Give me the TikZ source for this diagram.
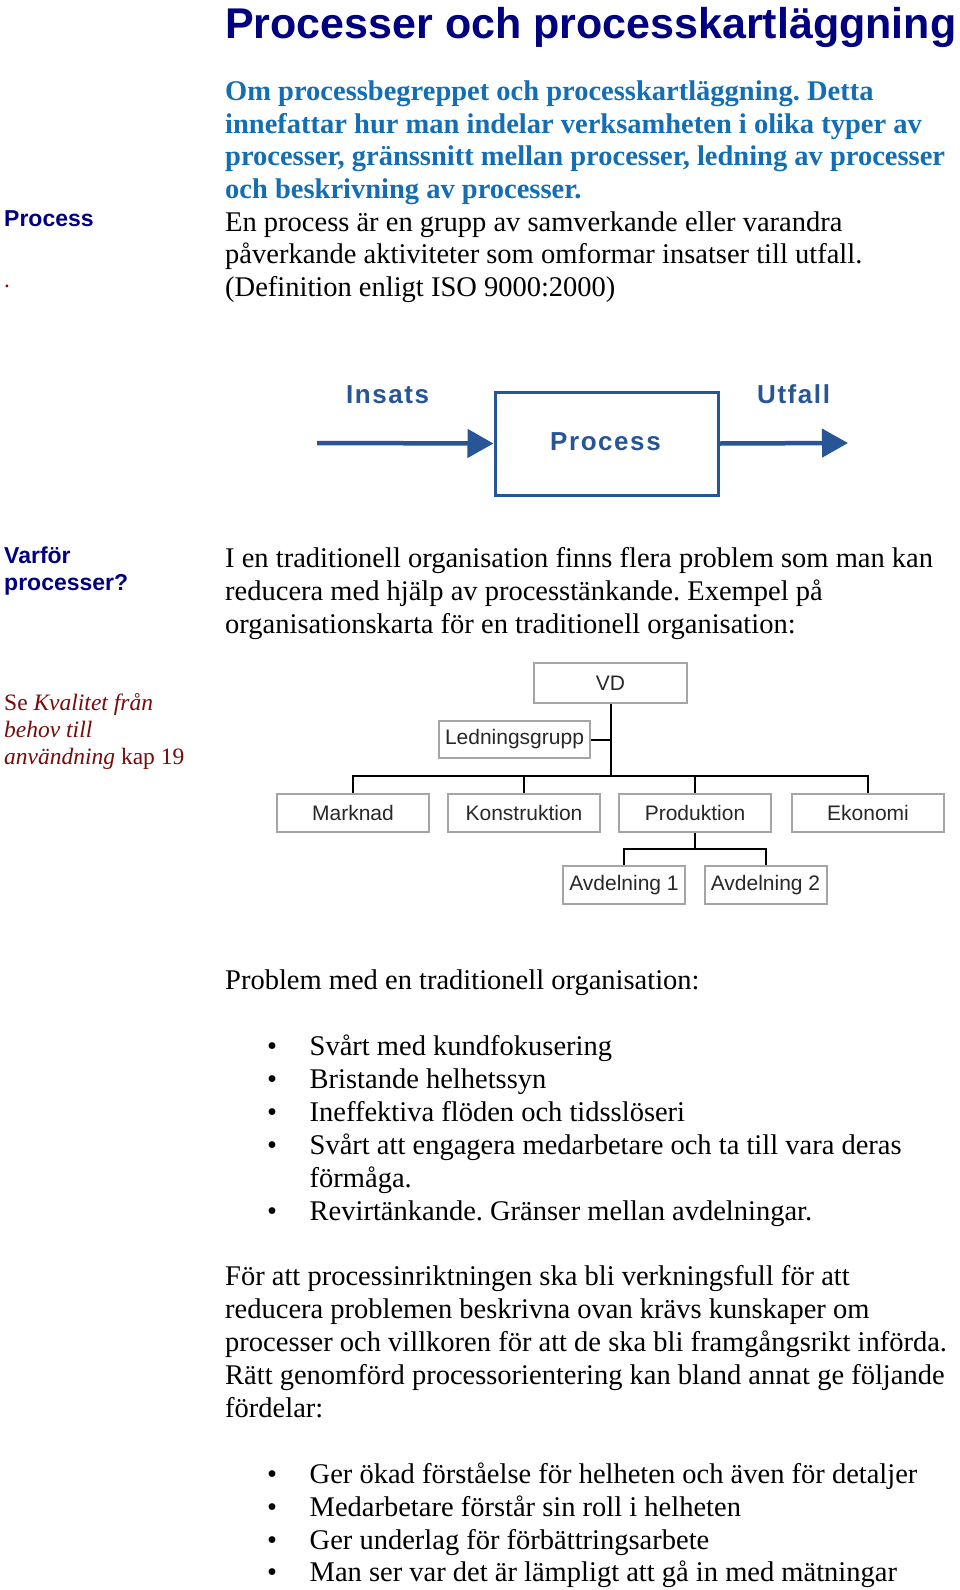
\documentclass[tikz,border=0pt]{standalone}
\usepackage{fontspec}
\setmainfont{Liberation Serif}
\newfontfamily\arialfont{Liberation Sans}
\newfontfamily\procfont[LetterSpace=6]{Liberation Sans}
\usetikzlibrary{arrows.meta}
\definecolor{navy}{RGB}{0,0,128}
\definecolor{leadblue}{RGB}{20,110,180}
\definecolor{procblue}{RGB}{40,85,150}
\definecolor{darkred}{RGB}{120,10,10}
\definecolor{orggray}{RGB}{165,165,165}
\definecolor{orgtext}{RGB}{40,40,40}
\tikzset{
  body/.style={anchor=base west, inner sep=0pt, font=\fontsize{28.5}{33}\selectfont},
  lead/.style={body, text=leadblue, font=\fontsize{28.5}{33}\selectfont\bfseries},
  side/.style={anchor=base west, inner sep=0pt, text=navy, font=\arialfont\fontsize{23}{27}\selectfont\bfseries},
  ref/.style={anchor=base west, inner sep=0pt, text=darkred, font=\fontsize{23.5}{27}\selectfont},
  proclabel/.style={anchor=base west, inner sep=0pt, text=procblue, font=\procfont\fontsize{26}{30}\selectfont\bfseries},
  procarrow/.style={draw=procblue, line width=4.5pt, -{Triangle[length=26pt,width=28pt]}},
  orgbox/.style={draw=orggray, line width=2pt, text=orgtext, inner sep=0pt, font=\arialfont\fontsize{21}{24}\selectfont},
  orgline/.style={draw=black, line width=2pt},
}
\newcommand{\bul}{\makebox[42.5pt][l]{\textbullet}}
\frenchspacing

\begin{document}
\begin{tikzpicture}[x=1pt,y=-1pt]
\useasboundingbox[fill=white] (0,0) rectangle (960,1590);

% heading and definition
\node[anchor=base west, inner sep=0pt, text=navy, font=\arialfont\fontsize{43}{48}\selectfont\bfseries] (title) at (225,38) {Processer och processkartläggning};
\node[lead] (lead1) at (225,100) {Om processbegreppet och processkartläggning. Detta};
\node[lead] (lead2) at (225,133) {innefattar hur man indelar verksamheten i olika typer av};
\node[lead] (lead3) at (225,165) {processer, gränssnitt mellan processer, ledning av processer};
\node[lead] (lead4) at (225,198) {och beskrivning av processer.};
\node[side] (sproc) at (4,226) {Process};
\node[ref] (sdot) at (4,287) {.};
\node[body] (def1) at (225,231) {En process är en grupp av samverkande eller varandra};
\node[body] (def2) at (225,263) {påverkande aktiviteter som omformar insatser till utfall.};
\node[body] (def3) at (225,296) {(Definition enligt ISO 9000:2000)};

% process figure
\node[draw=procblue, line width=3pt, minimum width=223pt, minimum height=103pt, inner sep=0pt] (proc) at (606.5,443.5) {};
\node[proclabel] (proctext) at (550,450) {Process};
\node[proclabel] (insats) at (346,403) {Insats};
\node[proclabel] (utfall) at (757,403) {Utfall};
\coordinate (in) at (317,443);
\coordinate (out) at (848,443);
\draw[procarrow] (in) -- (proc.west);
\draw[procarrow] (proc.east) -- (out);

% why processes
\node[side] (why1) at (4,563) {Varför};
\node[side] (why2) at (4,590) {processer?};
\node[body] (trad1) at (225,567) {I en traditionell organisation finns flera problem som man kan};
\node[body] (trad2) at (225,600) {reducera med hjälp av processtänkande. Exempel på};
\node[body] (trad3) at (225,633) {organisationskarta för en traditionell organisation:};
\node[ref] (ref1) at (4,710) {Se \textit{Kvalitet från}};
\node[ref] (ref2) at (4,737) {\textit{behov till}};
\node[ref] (ref3) at (4,764) {\textit{användning} kap 19};

% organisation chart
\node[orgbox, minimum width=153pt, minimum height=40pt] (vd) at (610.5,683) {VD};
\node[orgbox, minimum width=151pt, minimum height=37pt] (ledn) at (514.5,739.5) {Ledningsgrupp};
\node[orgbox, minimum width=152pt, minimum height=38pt] (marknad) at (353,813) {Marknad};
\node[orgbox, minimum width=152pt, minimum height=38pt] (konstr) at (524,813) {Konstruktion};
\node[orgbox, minimum width=152pt, minimum height=38pt] (prod) at (695,813) {Produktion};
\node[orgbox, minimum width=152pt, minimum height=38pt] (ekon) at (868,813) {Ekonomi};
\node[orgbox, minimum width=122pt, minimum height=38pt] (avd1) at (624,885) {Avdelning 1};
\node[orgbox, minimum width=122pt, minimum height=38pt] (avd2) at (765.5,885) {Avdelning 2};
\coordinate (bus) at (610.5,776);
\coordinate (subbus) at (695,849);
\draw[orgline] (vd.south) -- (vd.south |- bus);
\draw[orgline] (ledn.east) -- (ledn.east -| vd.south);
\draw[orgline] (marknad.north) |- (ekon.north |- bus) -- (ekon.north);
\draw[orgline] (konstr.north) -- (konstr.north |- bus);
\draw[orgline] (prod.north) -- (prod.north |- bus);
\draw[orgline] (prod.south) -- (subbus);
\draw[orgline] (avd1.north) |- (avd2.north |- subbus) -- (avd2.north);

% problems
\node[body] (prob) at (225,989) {Problem med en traditionell organisation:};
\node[body] (pb1) at (267,1055) {\bul Svårt med kundfokusering};
\node[body] (pb2) at (267,1088) {\bul Bristande helhetssyn};
\node[body] (pb3) at (267,1121) {\bul Ineffektiva flöden och tidsslöseri};
\node[body] (pb4) at (267,1154) {\bul Svårt att engagera medarbetare och ta till vara deras};
\node[body] (pb4b) at (309.5,1187) {förmåga.};
\node[body] (pb5) at (267,1220) {\bul Revirtänkande. Gränser mellan avdelningar.};

% advantages
\node[body] (adv1) at (225,1285) {För att processinriktningen ska bli verkningsfull för att};
\node[body] (adv2) at (225,1318) {reducera problemen beskrivna ovan krävs kunskaper om};
\node[body] (adv3) at (225,1351) {processer och villkoren för att de ska bli framgångsrikt införda.};
\node[body] (adv4) at (225,1384) {Rätt genomförd processorientering kan bland annat ge följande};
\node[body] (adv5) at (225,1417) {fördelar:};
\node[body] (fd1) at (267,1483) {\bul Ger ökad förståelse för helheten och även för detaljer};
\node[body] (fd2) at (267,1516) {\bul Medarbetare förstår sin roll i helheten};
\node[body] (fd3) at (267,1549) {\bul Ger underlag för förbättringsarbete};
\node[body] (fd4) at (267,1581) {\bul Man ser var det är lämpligt att gå in med mätningar};
\end{tikzpicture}
\end{document}
